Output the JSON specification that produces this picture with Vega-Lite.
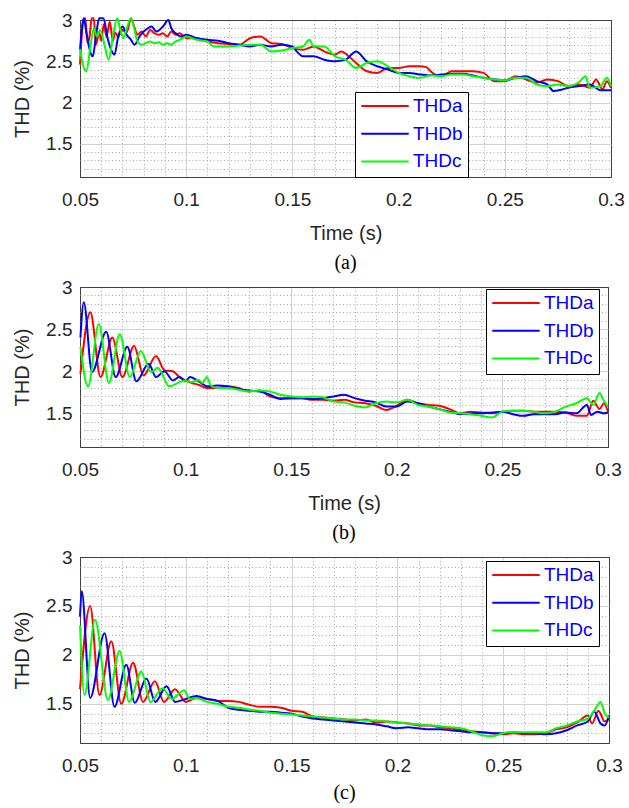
{
  "$schema": "https://vega.github.io/schema/vega-lite/v6.json",
  "padding": {"left": 12, "top": 10, "right": 0, "bottom": 0},
  "background": "white",
  "spacing": 3,
  "config": {
    "view": {"stroke": "#404040", "strokeWidth": 1},
    "axis": {
      "ticks": false,
      "domain": false,
      "grid": true,
      "labelFont": "Liberation Sans",
      "labelFontSize": 19,
      "labelColor": "#262626",
      "labelOverlap": false,
      "titleFont": "Liberation Sans",
      "titleFontSize": 20,
      "titleFontWeight": "normal",
      "titleColor": "#262626"
    },
    "legend": {
      "orient": "none",
      "title": null,
      "symbolType": "stroke",
      "symbolSize": 2250,
      "symbolStrokeWidth": 2,
      "clipHeight": 18,
      "rowPadding": 8.7,
      "labelFont": "Liberation Sans",
      "labelFontSize": 19,
      "labelColor": "#0000ff",
      "labelOffset": 3,
      "strokeColor": "#000000",
      "fillColor": "#ffffff",
      "padding": 5
    },
    "title": {"font": "Liberation Serif", "fontSize": 20, "fontWeight": "normal", "color": "#000000", "orient": "bottom", "anchor": "middle", "offset": 10},
    "line": {"strokeWidth": 2, "interpolate": "monotone", "clip": true}
  },
  "datasets": {
    "a": [
      {"s":"THDa","t":0.05,"v":2.46},{"s":"THDa","t":0.0515,"v":2.98},{"s":"THDa","t":0.0525,"v":3.02},{"s":"THDa","t":0.0535,"v":2.72},{"s":"THDa","t":0.0545,"v":2.8},{"s":"THDa","t":0.0555,"v":3.02},{"s":"THDa","t":0.0565,"v":3.02},{"s":"THDa","t":0.0575,"v":2.7},{"s":"THDa","t":0.059,"v":2.85},{"s":"THDa","t":0.06,"v":2.75},{"s":"THDa","t":0.0612,"v":2.95},{"s":"THDa","t":0.0625,"v":2.8},{"s":"THDa","t":0.064,"v":2.98},{"s":"THDa","t":0.0655,"v":2.75},{"s":"THDa","t":0.0665,"v":2.85},{"s":"THDa","t":0.068,"v":2.8},{"s":"THDa","t":0.07,"v":2.88},{"s":"THDa","t":0.072,"v":2.85},{"s":"THDa","t":0.074,"v":3.02},{"s":"THDa","t":0.0755,"v":2.92},{"s":"THDa","t":0.077,"v":2.82},{"s":"THDa","t":0.079,"v":2.86},{"s":"THDa","t":0.081,"v":2.8},{"s":"THDa","t":0.083,"v":2.88},{"s":"THDa","t":0.085,"v":2.84},{"s":"THDa","t":0.087,"v":2.82},{"s":"THDa","t":0.089,"v":2.84},{"s":"THDa","t":0.091,"v":2.8},{"s":"THDa","t":0.093,"v":2.86},{"s":"THDa","t":0.095,"v":2.82},{"s":"THDa","t":0.097,"v":2.84},{"s":"THDa","t":0.1,"v":2.78},{"s":"THDa","t":0.105,"v":2.78},{"s":"THDa","t":0.11,"v":2.74},{"s":"THDa","t":0.115,"v":2.72},{"s":"THDa","t":0.12,"v":2.71},{"s":"THDa","t":0.125,"v":2.7},{"s":"THDa","t":0.13,"v":2.78},{"s":"THDa","t":0.135,"v":2.8},{"s":"THDa","t":0.14,"v":2.72},{"s":"THDa","t":0.145,"v":2.71},{"s":"THDa","t":0.15,"v":2.66},{"s":"THDa","t":0.155,"v":2.64},{"s":"THDa","t":0.16,"v":2.68},{"s":"THDa","t":0.165,"v":2.62},{"s":"THDa","t":0.17,"v":2.58},{"s":"THDa","t":0.173,"v":2.62},{"s":"THDa","t":0.177,"v":2.55},{"s":"THDa","t":0.18,"v":2.48},{"s":"THDa","t":0.185,"v":2.38},{"s":"THDa","t":0.19,"v":2.36},{"s":"THDa","t":0.195,"v":2.42},{"s":"THDa","t":0.2,"v":2.42},{"s":"THDa","t":0.205,"v":2.44},{"s":"THDa","t":0.21,"v":2.44},{"s":"THDa","t":0.213,"v":2.43},{"s":"THDa","t":0.215,"v":2.38},{"s":"THDa","t":0.22,"v":2.32},{"s":"THDa","t":0.225,"v":2.38},{"s":"THDa","t":0.23,"v":2.38},{"s":"THDa","t":0.235,"v":2.38},{"s":"THDa","t":0.24,"v":2.36},{"s":"THDa","t":0.245,"v":2.26},{"s":"THDa","t":0.25,"v":2.26},{"s":"THDa","t":0.255,"v":2.32},{"s":"THDa","t":0.26,"v":2.28},{"s":"THDa","t":0.265,"v":2.24},{"s":"THDa","t":0.27,"v":2.28},{"s":"THDa","t":0.275,"v":2.26},{"s":"THDa","t":0.28,"v":2.2},{"s":"THDa","t":0.285,"v":2.22},{"s":"THDa","t":0.29,"v":2.18},{"s":"THDa","t":0.293,"v":2.28},{"s":"THDa","t":0.296,"v":2.16},{"s":"THDa","t":0.298,"v":2.26},{"s":"THDa","t":0.3,"v":2.18},
      {"s":"THDb","t":0.05,"v":2.64},{"s":"THDb","t":0.0512,"v":2.96},{"s":"THDb","t":0.0518,"v":3.02},{"s":"THDb","t":0.053,"v":2.85},{"s":"THDb","t":0.055,"v":2.6},{"s":"THDb","t":0.056,"v":2.56},{"s":"THDb","t":0.0575,"v":2.8},{"s":"THDb","t":0.059,"v":3.02},{"s":"THDb","t":0.061,"v":3.02},{"s":"THDb","t":0.063,"v":2.78},{"s":"THDb","t":0.065,"v":2.62},{"s":"THDb","t":0.0662,"v":2.58},{"s":"THDb","t":0.068,"v":2.8},{"s":"THDb","t":0.07,"v":2.92},{"s":"THDb","t":0.072,"v":2.82},{"s":"THDb","t":0.074,"v":2.76},{"s":"THDb","t":0.0757,"v":2.7},{"s":"THDb","t":0.078,"v":2.8},{"s":"THDb","t":0.08,"v":2.86},{"s":"THDb","t":0.082,"v":2.9},{"s":"THDb","t":0.0837,"v":2.92},{"s":"THDb","t":0.086,"v":2.86},{"s":"THDb","t":0.089,"v":2.92},{"s":"THDb","t":0.0916,"v":3.0},{"s":"THDb","t":0.093,"v":2.9},{"s":"THDb","t":0.095,"v":2.84},{"s":"THDb","t":0.0975,"v":2.8},{"s":"THDb","t":0.1,"v":2.82},{"s":"THDb","t":0.105,"v":2.78},{"s":"THDb","t":0.11,"v":2.76},{"s":"THDb","t":0.115,"v":2.75},{"s":"THDb","t":0.12,"v":2.72},{"s":"THDb","t":0.125,"v":2.7},{"s":"THDb","t":0.13,"v":2.68},{"s":"THDb","t":0.135,"v":2.7},{"s":"THDb","t":0.14,"v":2.68},{"s":"THDb","t":0.145,"v":2.7},{"s":"THDb","t":0.15,"v":2.68},{"s":"THDb","t":0.152,"v":2.62},{"s":"THDb","t":0.155,"v":2.56},{"s":"THDb","t":0.16,"v":2.56},{"s":"THDb","t":0.165,"v":2.52},{"s":"THDb","t":0.17,"v":2.5},{"s":"THDb","t":0.175,"v":2.52},{"s":"THDb","t":0.18,"v":2.62},{"s":"THDb","t":0.185,"v":2.5},{"s":"THDb","t":0.19,"v":2.44},{"s":"THDb","t":0.195,"v":2.4},{"s":"THDb","t":0.2,"v":2.36},{"s":"THDb","t":0.205,"v":2.36},{"s":"THDb","t":0.21,"v":2.34},{"s":"THDb","t":0.215,"v":2.33},{"s":"THDb","t":0.22,"v":2.34},{"s":"THDb","t":0.225,"v":2.35},{"s":"THDb","t":0.23,"v":2.35},{"s":"THDb","t":0.235,"v":2.33},{"s":"THDb","t":0.24,"v":2.3},{"s":"THDb","t":0.245,"v":2.28},{"s":"THDb","t":0.25,"v":2.27},{"s":"THDb","t":0.255,"v":2.3},{"s":"THDb","t":0.26,"v":2.32},{"s":"THDb","t":0.265,"v":2.26},{"s":"THDb","t":0.27,"v":2.22},{"s":"THDb","t":0.273,"v":2.14},{"s":"THDb","t":0.277,"v":2.16},{"s":"THDb","t":0.28,"v":2.18},{"s":"THDb","t":0.285,"v":2.2},{"s":"THDb","t":0.29,"v":2.22},{"s":"THDb","t":0.295,"v":2.15},{"s":"THDb","t":0.3,"v":2.15},
      {"s":"THDc","t":0.05,"v":2.65},{"s":"THDc","t":0.051,"v":2.5},{"s":"THDc","t":0.053,"v":2.38},{"s":"THDc","t":0.055,"v":2.7},{"s":"THDc","t":0.0565,"v":2.9},{"s":"THDc","t":0.058,"v":2.8},{"s":"THDc","t":0.0595,"v":2.88},{"s":"THDc","t":0.0615,"v":2.7},{"s":"THDc","t":0.0635,"v":2.52},{"s":"THDc","t":0.0655,"v":2.8},{"s":"THDc","t":0.0675,"v":3.02},{"s":"THDc","t":0.069,"v":2.88},{"s":"THDc","t":0.0705,"v":2.78},{"s":"THDc","t":0.072,"v":2.9},{"s":"THDc","t":0.074,"v":3.02},{"s":"THDc","t":0.0755,"v":2.9},{"s":"THDc","t":0.077,"v":2.74},{"s":"THDc","t":0.079,"v":2.7},{"s":"THDc","t":0.081,"v":2.72},{"s":"THDc","t":0.083,"v":2.74},{"s":"THDc","t":0.085,"v":2.72},{"s":"THDc","t":0.087,"v":2.73},{"s":"THDc","t":0.089,"v":2.7},{"s":"THDc","t":0.091,"v":2.72},{"s":"THDc","t":0.093,"v":2.7},{"s":"THDc","t":0.095,"v":2.74},{"s":"THDc","t":0.097,"v":2.76},{"s":"THDc","t":0.1,"v":2.8},{"s":"THDc","t":0.105,"v":2.76},{"s":"THDc","t":0.11,"v":2.74},{"s":"THDc","t":0.113,"v":2.68},{"s":"THDc","t":0.12,"v":2.68},{"s":"THDc","t":0.125,"v":2.69},{"s":"THDc","t":0.13,"v":2.7},{"s":"THDc","t":0.135,"v":2.7},{"s":"THDc","t":0.14,"v":2.62},{"s":"THDc","t":0.145,"v":2.63},{"s":"THDc","t":0.15,"v":2.66},{"s":"THDc","t":0.155,"v":2.68},{"s":"THDc","t":0.158,"v":2.76},{"s":"THDc","t":0.16,"v":2.68},{"s":"THDc","t":0.165,"v":2.68},{"s":"THDc","t":0.17,"v":2.56},{"s":"THDc","t":0.175,"v":2.52},{"s":"THDc","t":0.18,"v":2.42},{"s":"THDc","t":0.185,"v":2.48},{"s":"THDc","t":0.19,"v":2.5},{"s":"THDc","t":0.195,"v":2.44},{"s":"THDc","t":0.2,"v":2.36},{"s":"THDc","t":0.205,"v":2.32},{"s":"THDc","t":0.21,"v":2.3},{"s":"THDc","t":0.215,"v":2.33},{"s":"THDc","t":0.22,"v":2.32},{"s":"THDc","t":0.225,"v":2.34},{"s":"THDc","t":0.23,"v":2.34},{"s":"THDc","t":0.235,"v":2.32},{"s":"THDc","t":0.24,"v":2.3},{"s":"THDc","t":0.245,"v":2.28},{"s":"THDc","t":0.25,"v":2.27},{"s":"THDc","t":0.255,"v":2.3},{"s":"THDc","t":0.26,"v":2.3},{"s":"THDc","t":0.265,"v":2.22},{"s":"THDc","t":0.27,"v":2.2},{"s":"THDc","t":0.275,"v":2.22},{"s":"THDc","t":0.28,"v":2.2},{"s":"THDc","t":0.285,"v":2.25},{"s":"THDc","t":0.288,"v":2.32},{"s":"THDc","t":0.29,"v":2.18},{"s":"THDc","t":0.295,"v":2.2},{"s":"THDc","t":0.298,"v":2.3},{"s":"THDc","t":0.3,"v":2.2}
    ],
    "b": [
      {"s":"THDa","t":0.0502,"v":1.97},{"s":"THDa","t":0.0549,"v":2.7},{"s":"THDa","t":0.0597,"v":1.93},{"s":"THDa","t":0.0653,"v":2.4},{"s":"THDa","t":0.0701,"v":1.93},{"s":"THDa","t":0.0756,"v":2.3},{"s":"THDa","t":0.0801,"v":1.95},{"s":"THDa","t":0.086,"v":2.18},{"s":"THDa","t":0.09,"v":2.01},{"s":"THDa","t":0.0939,"v":2.0},{"s":"THDa","t":0.0971,"v":1.93},{"s":"THDa","t":0.1,"v":1.89},{"s":"THDa","t":0.103,"v":1.86},{"s":"THDa","t":0.106,"v":1.84},{"s":"THDa","t":0.11,"v":1.8},{"s":"THDa","t":0.115,"v":1.8},{"s":"THDa","t":0.12,"v":1.82},{"s":"THDa","t":0.125,"v":1.8},{"s":"THDa","t":0.13,"v":1.76},{"s":"THDa","t":0.135,"v":1.77},{"s":"THDa","t":0.14,"v":1.7},{"s":"THDa","t":0.145,"v":1.68},{"s":"THDa","t":0.15,"v":1.68},{"s":"THDa","t":0.155,"v":1.68},{"s":"THDa","t":0.16,"v":1.66},{"s":"THDa","t":0.165,"v":1.66},{"s":"THDa","t":0.17,"v":1.65},{"s":"THDa","t":0.175,"v":1.66},{"s":"THDa","t":0.18,"v":1.63},{"s":"THDa","t":0.185,"v":1.62},{"s":"THDa","t":0.19,"v":1.59},{"s":"THDa","t":0.195,"v":1.54},{"s":"THDa","t":0.2,"v":1.59},{"s":"THDa","t":0.205,"v":1.66},{"s":"THDa","t":0.21,"v":1.62},{"s":"THDa","t":0.215,"v":1.6},{"s":"THDa","t":0.22,"v":1.59},{"s":"THDa","t":0.225,"v":1.55},{"s":"THDa","t":0.23,"v":1.5},{"s":"THDa","t":0.235,"v":1.52},{"s":"THDa","t":0.24,"v":1.51},{"s":"THDa","t":0.245,"v":1.5},{"s":"THDa","t":0.25,"v":1.52},{"s":"THDa","t":0.255,"v":1.53},{"s":"THDa","t":0.26,"v":1.53},{"s":"THDa","t":0.265,"v":1.52},{"s":"THDa","t":0.27,"v":1.52},{"s":"THDa","t":0.275,"v":1.52},{"s":"THDa","t":0.28,"v":1.51},{"s":"THDa","t":0.285,"v":1.47},{"s":"THDa","t":0.29,"v":1.47},{"s":"THDa","t":0.293,"v":1.65},{"s":"THDa","t":0.296,"v":1.55},{"s":"THDa","t":0.298,"v":1.62},{"s":"THDa","t":0.3,"v":1.52},
      {"s":"THDb","t":0.0502,"v":2.4},{"s":"THDb","t":0.0518,"v":2.82},{"s":"THDb","t":0.0557,"v":1.99},{"s":"THDb","t":0.0624,"v":2.47},{"s":"THDb","t":0.0669,"v":1.93},{"s":"THDb","t":0.0724,"v":2.29},{"s":"THDb","t":0.0767,"v":1.88},{"s":"THDb","t":0.0825,"v":2.09},{"s":"THDb","t":0.086,"v":1.93},{"s":"THDb","t":0.09,"v":2.0},{"s":"THDb","t":0.0939,"v":1.89},{"s":"THDb","t":0.0971,"v":1.93},{"s":"THDb","t":0.1,"v":1.88},{"s":"THDb","t":0.102,"v":1.93},{"s":"THDb","t":0.105,"v":1.9},{"s":"THDb","t":0.108,"v":1.85},{"s":"THDb","t":0.11,"v":1.82},{"s":"THDb","t":0.115,"v":1.83},{"s":"THDb","t":0.12,"v":1.82},{"s":"THDb","t":0.125,"v":1.79},{"s":"THDb","t":0.13,"v":1.77},{"s":"THDb","t":0.135,"v":1.76},{"s":"THDb","t":0.14,"v":1.72},{"s":"THDb","t":0.145,"v":1.67},{"s":"THDb","t":0.15,"v":1.68},{"s":"THDb","t":0.155,"v":1.68},{"s":"THDb","t":0.16,"v":1.67},{"s":"THDb","t":0.165,"v":1.68},{"s":"THDb","t":0.17,"v":1.7},{"s":"THDb","t":0.175,"v":1.72},{"s":"THDb","t":0.18,"v":1.68},{"s":"THDb","t":0.185,"v":1.65},{"s":"THDb","t":0.19,"v":1.63},{"s":"THDb","t":0.195,"v":1.58},{"s":"THDb","t":0.2,"v":1.58},{"s":"THDb","t":0.205,"v":1.64},{"s":"THDb","t":0.21,"v":1.62},{"s":"THDb","t":0.215,"v":1.58},{"s":"THDb","t":0.22,"v":1.55},{"s":"THDb","t":0.225,"v":1.52},{"s":"THDb","t":0.23,"v":1.49},{"s":"THDb","t":0.235,"v":1.5},{"s":"THDb","t":0.24,"v":1.5},{"s":"THDb","t":0.245,"v":1.51},{"s":"THDb","t":0.25,"v":1.52},{"s":"THDb","t":0.255,"v":1.49},{"s":"THDb","t":0.26,"v":1.47},{"s":"THDb","t":0.265,"v":1.49},{"s":"THDb","t":0.27,"v":1.49},{"s":"THDb","t":0.275,"v":1.49},{"s":"THDb","t":0.28,"v":1.51},{"s":"THDb","t":0.285,"v":1.5},{"s":"THDb","t":0.29,"v":1.6},{"s":"THDb","t":0.292,"v":1.48},{"s":"THDb","t":0.295,"v":1.52},{"s":"THDb","t":0.298,"v":1.5},{"s":"THDb","t":0.3,"v":1.51},
      {"s":"THDc","t":0.0502,"v":2.29},{"s":"THDc","t":0.0538,"v":1.82},{"s":"THDc","t":0.0589,"v":2.56},{"s":"THDc","t":0.0637,"v":1.86},{"s":"THDc","t":0.0688,"v":2.44},{"s":"THDc","t":0.0736,"v":1.93},{"s":"THDc","t":0.0788,"v":2.24},{"s":"THDc","t":0.0836,"v":1.99},{"s":"THDc","t":0.0868,"v":2.04},{"s":"THDc","t":0.0923,"v":1.82},{"s":"THDc","t":0.0971,"v":1.87},{"s":"THDc","t":0.1,"v":1.89},{"s":"THDc","t":0.103,"v":1.87},{"s":"THDc","t":0.106,"v":1.9},{"s":"THDc","t":0.108,"v":1.86},{"s":"THDc","t":0.11,"v":1.93},{"s":"THDc","t":0.112,"v":1.83},{"s":"THDc","t":0.115,"v":1.8},{"s":"THDc","t":0.12,"v":1.8},{"s":"THDc","t":0.125,"v":1.78},{"s":"THDc","t":0.13,"v":1.76},{"s":"THDc","t":0.135,"v":1.77},{"s":"THDc","t":0.14,"v":1.76},{"s":"THDc","t":0.145,"v":1.72},{"s":"THDc","t":0.15,"v":1.7},{"s":"THDc","t":0.155,"v":1.69},{"s":"THDc","t":0.16,"v":1.7},{"s":"THDc","t":0.165,"v":1.69},{"s":"THDc","t":0.17,"v":1.64},{"s":"THDc","t":0.175,"v":1.63},{"s":"THDc","t":0.18,"v":1.59},{"s":"THDc","t":0.185,"v":1.57},{"s":"THDc","t":0.19,"v":1.62},{"s":"THDc","t":0.195,"v":1.64},{"s":"THDc","t":0.2,"v":1.63},{"s":"THDc","t":0.205,"v":1.66},{"s":"THDc","t":0.21,"v":1.6},{"s":"THDc","t":0.215,"v":1.58},{"s":"THDc","t":0.22,"v":1.55},{"s":"THDc","t":0.225,"v":1.51},{"s":"THDc","t":0.23,"v":1.5},{"s":"THDc","t":0.235,"v":1.49},{"s":"THDc","t":0.24,"v":1.47},{"s":"THDc","t":0.245,"v":1.45},{"s":"THDc","t":0.25,"v":1.52},{"s":"THDc","t":0.255,"v":1.53},{"s":"THDc","t":0.26,"v":1.53},{"s":"THDc","t":0.265,"v":1.52},{"s":"THDc","t":0.27,"v":1.5},{"s":"THDc","t":0.275,"v":1.52},{"s":"THDc","t":0.28,"v":1.58},{"s":"THDc","t":0.285,"v":1.62},{"s":"THDc","t":0.29,"v":1.68},{"s":"THDc","t":0.293,"v":1.6},{"s":"THDc","t":0.296,"v":1.74},{"s":"THDc","t":0.298,"v":1.65},{"s":"THDc","t":0.3,"v":1.58}
    ],
    "c": [
      {"s":"THDa","t":0.05,"v":1.65},{"s":"THDa","t":0.0548,"v":2.5},{"s":"THDa","t":0.0592,"v":1.59},{"s":"THDa","t":0.0648,"v":2.14},{"s":"THDa","t":0.0695,"v":1.5},{"s":"THDa","t":0.0751,"v":1.92},{"s":"THDa","t":0.0798,"v":1.52},{"s":"THDa","t":0.0854,"v":1.73},{"s":"THDa","t":0.0897,"v":1.52},{"s":"THDa","t":0.0949,"v":1.65},{"s":"THDa","t":0.1,"v":1.52},{"s":"THDa","t":0.105,"v":1.56},{"s":"THDa","t":0.11,"v":1.55},{"s":"THDa","t":0.115,"v":1.53},{"s":"THDa","t":0.12,"v":1.53},{"s":"THDa","t":0.125,"v":1.52},{"s":"THDa","t":0.13,"v":1.49},{"s":"THDa","t":0.135,"v":1.47},{"s":"THDa","t":0.14,"v":1.47},{"s":"THDa","t":0.145,"v":1.46},{"s":"THDa","t":0.15,"v":1.43},{"s":"THDa","t":0.155,"v":1.42},{"s":"THDa","t":0.16,"v":1.37},{"s":"THDa","t":0.165,"v":1.36},{"s":"THDa","t":0.17,"v":1.35},{"s":"THDa","t":0.175,"v":1.34},{"s":"THDa","t":0.18,"v":1.33},{"s":"THDa","t":0.185,"v":1.34},{"s":"THDa","t":0.19,"v":1.31},{"s":"THDa","t":0.195,"v":1.32},{"s":"THDa","t":0.2,"v":1.31},{"s":"THDa","t":0.205,"v":1.3},{"s":"THDa","t":0.21,"v":1.28},{"s":"THDa","t":0.215,"v":1.28},{"s":"THDa","t":0.22,"v":1.26},{"s":"THDa","t":0.225,"v":1.25},{"s":"THDa","t":0.23,"v":1.23},{"s":"THDa","t":0.235,"v":1.22},{"s":"THDa","t":0.24,"v":1.21},{"s":"THDa","t":0.245,"v":1.2},{"s":"THDa","t":0.25,"v":1.19},{"s":"THDa","t":0.255,"v":1.2},{"s":"THDa","t":0.26,"v":1.19},{"s":"THDa","t":0.265,"v":1.19},{"s":"THDa","t":0.27,"v":1.2},{"s":"THDa","t":0.275,"v":1.24},{"s":"THDa","t":0.28,"v":1.26},{"s":"THDa","t":0.285,"v":1.31},{"s":"THDa","t":0.29,"v":1.38},{"s":"THDa","t":0.292,"v":1.3},{"s":"THDa","t":0.295,"v":1.43},{"s":"THDa","t":0.298,"v":1.32},{"s":"THDa","t":0.3,"v":1.35},
      {"s":"THDb","t":0.05,"v":2.39},{"s":"THDb","t":0.0508,"v":2.65},{"s":"THDb","t":0.0548,"v":1.56},{"s":"THDb","t":0.0616,"v":2.22},{"s":"THDb","t":0.0663,"v":1.47},{"s":"THDb","t":0.0719,"v":1.9},{"s":"THDb","t":0.0759,"v":1.51},{"s":"THDb","t":0.0814,"v":1.76},{"s":"THDb","t":0.0856,"v":1.52},{"s":"THDb","t":0.0909,"v":1.68},{"s":"THDb","t":0.095,"v":1.52},{"s":"THDb","t":0.1,"v":1.55},{"s":"THDb","t":0.105,"v":1.58},{"s":"THDb","t":0.11,"v":1.55},{"s":"THDb","t":0.115,"v":1.53},{"s":"THDb","t":0.12,"v":1.46},{"s":"THDb","t":0.125,"v":1.44},{"s":"THDb","t":0.13,"v":1.43},{"s":"THDb","t":0.135,"v":1.42},{"s":"THDb","t":0.14,"v":1.42},{"s":"THDb","t":0.145,"v":1.41},{"s":"THDb","t":0.15,"v":1.4},{"s":"THDb","t":0.155,"v":1.37},{"s":"THDb","t":0.16,"v":1.35},{"s":"THDb","t":0.165,"v":1.34},{"s":"THDb","t":0.17,"v":1.33},{"s":"THDb","t":0.175,"v":1.32},{"s":"THDb","t":0.18,"v":1.31},{"s":"THDb","t":0.185,"v":1.3},{"s":"THDb","t":0.19,"v":1.29},{"s":"THDb","t":0.195,"v":1.27},{"s":"THDb","t":0.2,"v":1.25},{"s":"THDb","t":0.205,"v":1.26},{"s":"THDb","t":0.21,"v":1.25},{"s":"THDb","t":0.215,"v":1.24},{"s":"THDb","t":0.22,"v":1.24},{"s":"THDb","t":0.225,"v":1.23},{"s":"THDb","t":0.23,"v":1.22},{"s":"THDb","t":0.235,"v":1.21},{"s":"THDb","t":0.24,"v":1.21},{"s":"THDb","t":0.245,"v":1.2},{"s":"THDb","t":0.25,"v":1.2},{"s":"THDb","t":0.255,"v":1.21},{"s":"THDb","t":0.26,"v":1.2},{"s":"THDb","t":0.265,"v":1.2},{"s":"THDb","t":0.27,"v":1.19},{"s":"THDb","t":0.275,"v":1.2},{"s":"THDb","t":0.28,"v":1.23},{"s":"THDb","t":0.285,"v":1.28},{"s":"THDb","t":0.29,"v":1.32},{"s":"THDb","t":0.293,"v":1.42},{"s":"THDb","t":0.296,"v":1.3},{"s":"THDb","t":0.298,"v":1.28},{"s":"THDb","t":0.3,"v":1.38},
      {"s":"THDc","t":0.05,"v":2.3},{"s":"THDc","t":0.0521,"v":1.59},{"s":"THDc","t":0.0571,"v":2.36},{"s":"THDc","t":0.0632,"v":1.54},{"s":"THDc","t":0.0687,"v":2.04},{"s":"THDc","t":0.0732,"v":1.52},{"s":"THDc","t":0.079,"v":1.83},{"s":"THDc","t":0.0833,"v":1.52},{"s":"THDc","t":0.089,"v":1.66},{"s":"THDc","t":0.0933,"v":1.55},{"s":"THDc","t":0.0992,"v":1.64},{"s":"THDc","t":0.102,"v":1.55},{"s":"THDc","t":0.105,"v":1.56},{"s":"THDc","t":0.11,"v":1.52},{"s":"THDc","t":0.115,"v":1.5},{"s":"THDc","t":0.12,"v":1.47},{"s":"THDc","t":0.125,"v":1.46},{"s":"THDc","t":0.13,"v":1.44},{"s":"THDc","t":0.135,"v":1.43},{"s":"THDc","t":0.14,"v":1.41},{"s":"THDc","t":0.145,"v":1.4},{"s":"THDc","t":0.15,"v":1.39},{"s":"THDc","t":0.155,"v":1.38},{"s":"THDc","t":0.16,"v":1.37},{"s":"THDc","t":0.165,"v":1.36},{"s":"THDc","t":0.17,"v":1.35},{"s":"THDc","t":0.175,"v":1.34},{"s":"THDc","t":0.18,"v":1.34},{"s":"THDc","t":0.185,"v":1.33},{"s":"THDc","t":0.19,"v":1.33},{"s":"THDc","t":0.195,"v":1.32},{"s":"THDc","t":0.2,"v":1.31},{"s":"THDc","t":0.205,"v":1.3},{"s":"THDc","t":0.21,"v":1.29},{"s":"THDc","t":0.215,"v":1.28},{"s":"THDc","t":0.22,"v":1.27},{"s":"THDc","t":0.225,"v":1.26},{"s":"THDc","t":0.23,"v":1.25},{"s":"THDc","t":0.235,"v":1.22},{"s":"THDc","t":0.24,"v":1.18},{"s":"THDc","t":0.245,"v":1.17},{"s":"THDc","t":0.25,"v":1.2},{"s":"THDc","t":0.255,"v":1.21},{"s":"THDc","t":0.26,"v":1.21},{"s":"THDc","t":0.265,"v":1.21},{"s":"THDc","t":0.27,"v":1.21},{"s":"THDc","t":0.275,"v":1.25},{"s":"THDc","t":0.28,"v":1.28},{"s":"THDc","t":0.285,"v":1.32},{"s":"THDc","t":0.29,"v":1.35},{"s":"THDc","t":0.293,"v":1.43},{"s":"THDc","t":0.296,"v":1.52},{"s":"THDc","t":0.298,"v":1.4},{"s":"THDc","t":0.3,"v":1.36}
    ]
  },
  "vconcat": [
    {
      "width": 531, "height": 157,
      "data": {"name": "a"},
      "title": {"text": "(a)"},
      "mark": {"type": "line"},
      "encoding": {
        "x": {"field": "t", "type": "quantitative", "scale": {"domain": [0.05, 0.3], "nice": false, "zero": false},
          "axis": {"values": [0.05,0.06,0.07,0.08,0.09,0.1,0.11,0.12,0.13,0.14,0.15,0.16,0.17,0.18,0.19,0.2,0.21,0.22,0.23,0.24,0.25,0.26,0.27,0.28,0.29,0.3],
            "labelExpr": "round(datum.value*100) % 5 == 0 ? format(datum.value, '~g') : ''",
            "gridColor": {"condition": [{"test": "datum.value < 0.0505 || datum.value > 0.2995", "value": "#404040"}, {"test": "round(datum.value*100) % 5 == 0", "value": "#d2d2d2"}], "value": "#a8a8a8"},
            "gridDash": {"condition": {"test": "round(datum.value*100) % 5 == 0", "value": []}, "value": [1, 2.5]},
            "labelFlush": false, "labelPadding": 13, "title": "Time (s)", "titlePadding": 14}},
        "y": {"field": "v", "type": "quantitative", "scale": {"domain": [1.1, 3], "nice": false, "zero": false},
          "axis": {"values": [1.1,1.2,1.3,1.4,1.5,1.6,1.7,1.8,1.9,2,2.1,2.2,2.3,2.4,2.5,2.6,2.7,2.8,2.9,3],
            "labelExpr": "round(datum.value*10) % 5 == 0 ? format(datum.value, '~g') : ''",
            "gridColor": {"condition": [{"test": "datum.value < 1.105 || datum.value > 2.995", "value": "#404040"}, {"test": "round(datum.value*10) % 5 == 0", "value": "#d2d2d2"}], "value": "#a8a8a8"},
            "gridDash": {"condition": {"test": "round(datum.value*10) % 5 == 0 || datum.value < 1.105", "value": []}, "value": [1, 2.5]},
            "labelPadding": 8, "title": "THD (%)", "titlePadding": 13}},
        "color": {"field": "s", "type": "nominal", "scale": {"domain": ["THDa", "THDb", "THDc"], "range": ["#ff0000", "#0000ff", "#00ff00"]},
          "legend": {"legendX": 275, "legendY": 72}}
      }
    },
    {
      "width": 528, "height": 160,
      "data": {"name": "b"},
      "title": {"text": "(b)"},
      "mark": {"type": "line"},
      "encoding": {
        "x": {"field": "t", "type": "quantitative", "scale": {"domain": [0.05, 0.3], "nice": false, "zero": false},
          "axis": {"values": [0.05,0.06,0.07,0.08,0.09,0.1,0.11,0.12,0.13,0.14,0.15,0.16,0.17,0.18,0.19,0.2,0.21,0.22,0.23,0.24,0.25,0.26,0.27,0.28,0.29,0.3],
            "labelExpr": "round(datum.value*100) % 5 == 0 ? format(datum.value, '~g') : ''",
            "gridColor": {"condition": [{"test": "datum.value < 0.0505 || datum.value > 0.2995", "value": "#404040"}, {"test": "round(datum.value*100) % 5 == 0", "value": "#d2d2d2"}], "value": "#a8a8a8"},
            "gridDash": {"condition": {"test": "round(datum.value*100) % 5 == 0", "value": []}, "value": [1, 2.5]},
            "labelFlush": false, "labelPadding": 13, "title": "Time (s)", "titlePadding": 14}},
        "y": {"field": "v", "type": "quantitative", "scale": {"domain": [1.1, 3], "nice": false, "zero": false},
          "axis": {"values": [1.1,1.2,1.3,1.4,1.5,1.6,1.7,1.8,1.9,2,2.1,2.2,2.3,2.4,2.5,2.6,2.7,2.8,2.9,3],
            "labelExpr": "round(datum.value*10) % 5 == 0 ? format(datum.value, '~g') : ''",
            "gridColor": {"condition": [{"test": "datum.value < 1.105 || datum.value > 2.995", "value": "#404040"}, {"test": "round(datum.value*10) % 5 == 0", "value": "#d2d2d2"}], "value": "#a8a8a8"},
            "gridDash": {"condition": {"test": "round(datum.value*10) % 5 == 0 || datum.value < 1.105", "value": []}, "value": [1, 2.5]},
            "labelPadding": 8, "title": "THD (%)", "titlePadding": 13}},
        "color": {"field": "s", "type": "nominal", "scale": {"domain": ["THDa", "THDb", "THDc"], "range": ["#ff0000", "#0000ff", "#00ff00"]},
          "legend": {"legendX": 406, "legendY": 2}}
      }
    },
    {
      "width": 529, "height": 186,
      "data": {"name": "c"},
      "title": {"text": "(c)", "offset": 8},
      "mark": {"type": "line"},
      "encoding": {
        "x": {"field": "t", "type": "quantitative", "scale": {"domain": [0.05, 0.3], "nice": false, "zero": false},
          "axis": {"values": [0.05,0.06,0.07,0.08,0.09,0.1,0.11,0.12,0.13,0.14,0.15,0.16,0.17,0.18,0.19,0.2,0.21,0.22,0.23,0.24,0.25,0.26,0.27,0.28,0.29,0.3],
            "labelExpr": "round(datum.value*100) % 5 == 0 ? format(datum.value, '~g') : ''",
            "gridColor": {"condition": [{"test": "datum.value < 0.0505 || datum.value > 0.2995", "value": "#404040"}, {"test": "round(datum.value*100) % 5 == 0", "value": "#d2d2d2"}], "value": "#a8a8a8"},
            "gridDash": {"condition": {"test": "round(datum.value*100) % 5 == 0", "value": []}, "value": [1, 2.5]},
            "labelFlush": false, "labelPadding": 13, "title": null}},
        "y": {"field": "v", "type": "quantitative", "scale": {"domain": [1.1, 3], "nice": false, "zero": false},
          "axis": {"values": [1.1,1.2,1.3,1.4,1.5,1.6,1.7,1.8,1.9,2,2.1,2.2,2.3,2.4,2.5,2.6,2.7,2.8,2.9,3],
            "labelExpr": "round(datum.value*10) % 5 == 0 ? format(datum.value, '~g') : ''",
            "gridColor": {"condition": [{"test": "datum.value < 1.105 || datum.value > 2.995", "value": "#404040"}, {"test": "round(datum.value*10) % 5 == 0", "value": "#d2d2d2"}], "value": "#a8a8a8"},
            "gridDash": {"condition": {"test": "round(datum.value*10) % 5 == 0 || datum.value < 1.105", "value": []}, "value": [1, 2.5]},
            "labelPadding": 8, "title": "THD (%)", "titlePadding": 13}},
        "color": {"field": "s", "type": "nominal", "scale": {"domain": ["THDa", "THDb", "THDc"], "range": ["#ff0000", "#0000ff", "#00ff00"]},
          "legend": {"legendX": 406, "legendY": 4}}
      }
    }
  ],
  "resolve": {"scale": {"color": "independent"}, "legend": {"color": "independent"}}
}
